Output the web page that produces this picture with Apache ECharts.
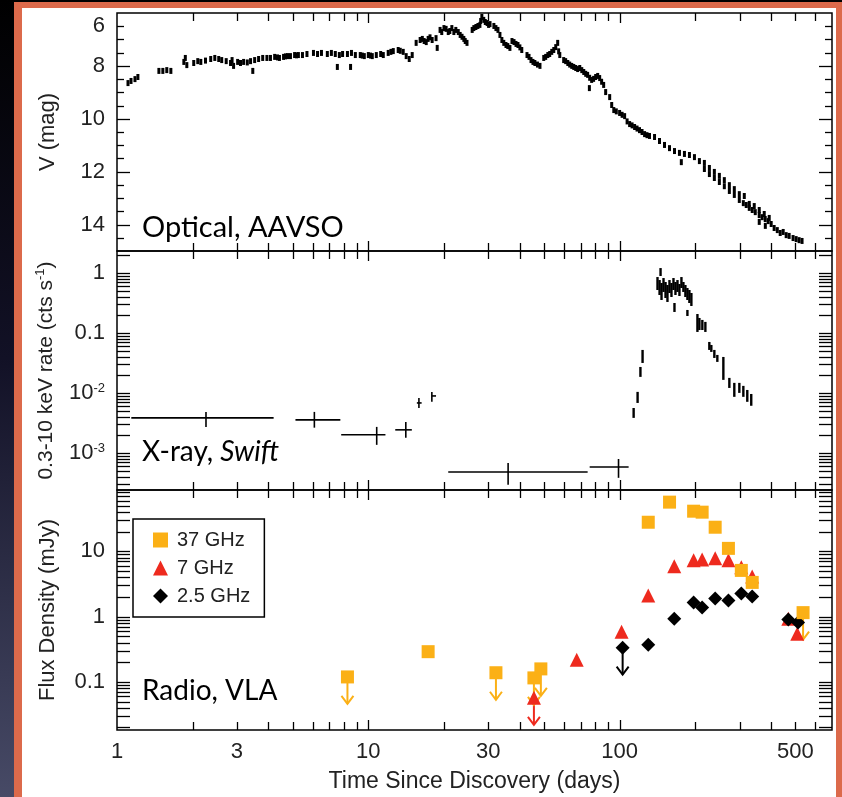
<!DOCTYPE html>
<html><head><meta charset="utf-8">
<script src="https://cdn.jsdelivr.net/npm/echarts@6.0.0/dist/echarts.min.js"></script>
<style>
html,body{margin:0;padding:0;width:842px;height:797px;overflow:hidden;}
body{background:linear-gradient(to bottom,#000 0%,#121126 45%,#474a66 100%);position:relative;}
#frame{position:absolute;left:14px;top:2px;width:828px;height:795px;background:#DC6A4B;}
#paper{position:absolute;left:22px;top:8px;width:814px;height:789px;background:#fff;}
#chart{position:absolute;left:0;top:0;width:842px;height:797px;}
</style></head><body>
<div id="frame"></div><div id="paper"></div><div id="chart"></div>
<script>
// ---------- DATA ----------
const xTickValues = [1, 3, 10, 30, 100, 500];
const xTickLabels = ['1', '3', '10', '30', '100', '500'];
const magTickValues = [6, 8, 10, 12, 14];
const xrayTickValues = [0.001, 0.01, 0.1, 1];
const xrayTickLabels = ['10{sup|-3}', '10{sup|-2}', '0.1', '1'];
const radioTickValues = [0.1, 1, 10];
const radioTickLabels = ['0.1', '1', '10'];

// Optical V magnitude (AAVSO): [day, mag]
const optical = [
[1.106,8.65],[1.137,8.57],[1.179,8.50],[1.211,8.42],
[1.468,8.19],[1.522,8.19],[1.578,8.16],[1.638,8.19],
[1.845,7.85],[1.87,7.70],[1.896,7.97],
[2.02,7.89],[2.096,7.82],[2.155,7.85],[2.25,7.80],
[2.36,7.74],[2.45,7.70],[2.54,7.74],[2.61,7.78],[2.72,7.82],
[2.83,7.89],[2.87,7.78],[2.91,8.00],
[3.02,7.85],[3.10,7.89],[3.19,7.85],[3.30,7.87],
[3.40,7.82],[3.47,8.19],[3.53,7.78],[3.66,7.74],[3.80,7.70],[3.95,7.70],
[4.08,7.70],[4.24,7.66],[4.35,7.68],[4.43,7.70],[4.60,7.66],[4.68,7.64],[4.77,7.63],
[4.90,7.63],[5.09,7.59],[5.18,7.60],[5.27,7.59],[5.47,7.59],[5.7,7.55],
[6.05,7.51],[6.28,7.55],[6.51,7.51],
[6.87,7.55],[7.13,7.51],[7.39,7.55],[7.53,8.04],[7.67,7.59],[7.9,7.55],
[8.26,7.55],[8.50,8.04],[8.57,7.51],[8.88,7.59],
[9.29,7.59],[9.46,7.61],[9.64,7.63],[10.0,7.59],[10.2,7.61],[10.37,7.63],[10.76,7.59],
[11.2,7.55],[11.47,7.59],[12.0,7.51],[12.3,7.47],[12.57,7.44],[13.15,7.40],[13.4,7.43],[13.77,7.47],
[14.15,7.63],[14.55,7.74],[14.95,7.59],
[15.5,7.13],[16.08,7.02],[16.4,6.98],[16.68,7.06],[17.0,7.10],[17.3,6.98],[17.6,6.92],[17.95,7.02],[18.6,6.95],[18.8,7.32],
[19.3,6.64],[19.6,6.72],[20.0,6.57],[20.4,6.60],[20.8,6.72],[21.1,6.68],[21.5,6.57],[21.9,6.72],[22.3,6.64],
[22.8,6.72],[23.2,6.83],[23.6,6.90],[24.0,6.98],[24.3,7.06],[24.7,7.13],
[25.9,6.64],[26.3,6.57],[26.8,6.53],[27.3,6.49],[27.8,6.45],[28.0,6.30],[28.3,6.15],[28.8,6.26],[29.2,6.34],[29.7,6.38],[30.1,6.45],[30.5,6.42],
[31.6,6.49],[32.2,6.57],[32.8,6.64],[33.4,6.83],[34.0,7.02],[34.6,7.13],[35.3,7.21],[35.9,7.25],[36.6,7.32],
[37.3,7.06],[38.0,7.10],[38.7,7.17],[39.4,7.21],[40.1,7.30],[40.8,7.40],
[42.8,7.59],[43.6,7.66],[44.4,7.78],[45.2,7.85],[46.0,7.89],[47.1,7.95],[48.2,8.00],
[49.9,7.70],[50.8,7.66],[51.8,7.59],[52.7,7.55],[53.7,7.47],[54.7,7.40],[55.7,7.29],[56.7,7.13],[57.2,7.45],[57.8,7.59],
[59.9,7.78],[61.0,7.82],[62.2,7.89],[63.3,7.95],[64.5,8.00],[65.7,8.04],[66.9,8.08],[68.1,8.12],
[69.4,8.08],[70.7,8.16],[72.0,8.23],[73.3,8.30],[74.6,8.34],[75.8,8.84],[76.0,8.45],[77.4,8.53],[78.8,8.49],[80.3,8.42],[81.8,8.38],[83.3,8.46],[84.8,8.60],
[86.4,8.72],[88.0,8.99],[91.3,9.18],
[93.0,9.48],[94.8,9.67],[97.0,9.72],[100,9.78],[102.3,9.85],[104.7,9.90],
[107.1,10.10],[109.6,10.20],[112.1,10.25],[114.7,10.31],[117.3,10.37],[120,10.43],[122.8,10.50],[125.7,10.58],[128.5,10.62],[131.5,10.65],
[137.7,10.69],[144.1,10.84],[150.9,10.99],[157.9,11.11],[165.3,11.22],[173,11.29],[176,11.64],[181.1,11.33],[189.6,11.37],[198.5,11.45],[207.7,11.60],
[217.4,11.67],[227.6,11.86],[238.2,12.01],[249.4,12.16],[261,12.32],[273.3,12.51],[286,12.66],[299.4,12.85],
[217.4,11.90],[227.6,12.09],[238.2,12.24],[249.4,12.39],[261,12.55],[273.3,12.73],[286,12.88],
[299.4,13.07],[310.6,13.19],[313.4,12.92],[319,13.26],[328,13.37],[328,13.22],[337,13.45],[343.3,13.30],[346.5,13.53],
[359.4,13.64],[359.4,13.45],[359.4,13.90],[369,13.72],[376.2,13.60],[379.6,13.79],[380,14.05],[390,13.87],[393.8,13.75],
[401,13.98],[412,14.13],[424,14.21],[435.5,14.32],[447.6,14.28],[460,14.40],[472.7,14.43],[490,14.51],[504,14.55],[517.9,14.59],[532,14.62]
];

// X-ray (Swift) binned points with errors: [day, dayLo, dayHi, rate, rateLo, rateHi]
const xrayCross = [
[2.26, 1.14, 4.2, 3.83e-3, 2.71e-3, 4.82e-3],
[6.1, 5.13, 7.74, 3.55e-3, 2.63e-3, 4.82e-3],
[10.8, 7.8, 11.7, 2.0e-3, 1.36e-3, 2.71e-3],
[14.1, 12.8, 14.9, 2.42e-3, 1.78e-3, 3.28e-3],
[15.9, 15.6, 16.3, 6.8e-3, 5.6e-3, 8.25e-3],
[17.9, 17.9, 18.6, 8.9e-3, 7.1e-3, 1.04e-2],
[36, 20.8, 74.6, 4.8e-4, 2.93e-4, 6.8e-4],
[99, 76, 108.6, 5.8e-4, 3.83e-4, 7.9e-4]
];
// X-ray individual observations: [day, rateLo, rateHi]
const xrayBars = [
[113.7, 3.83e-3, 5.6e-3],[117.9, 6.8e-3, 1.04e-2],[121, 0.0185, 0.0271],[123.4, 0.0316, 0.0521],
[141.5, 0.521, 0.857],[144.2, 0.43, 0.764],[145.5, 0.891, 1.21],[146.8, 0.355, 0.681],[149.5, 0.483, 0.825],
[152.3, 0.383, 0.708],[155.0, 0.329, 0.631],[157.9, 0.464, 0.764],[160.8, 0.398, 0.681],[163.8, 0.521, 0.825],
[165.3, 0.224, 0.316],[166.8, 0.43, 0.708],[169.9, 0.483, 0.764],[173.0, 0.414, 0.656],[176.2, 0.562, 0.857],
[179.4, 0.483, 0.708],[182.7, 0.398, 0.631],[186.1, 0.355, 0.562],[186.1, 0.192, 0.242],[189.5, 0.316, 0.521],
[193.0, 0.282, 0.464],[204.0, 0.104, 0.207],[207.7, 0.112, 0.178],[213.4, 0.112, 0.165],[219.4, 0.104, 0.153],
[227.5, 0.0521, 0.0708],[231.7, 0.0483, 0.0631],[238.2, 0.0383, 0.0521],[244.8, 0.0329, 0.043],[258.7, 0.0165, 0.0398],
[273.3, 0.0121, 0.0178],[286, 0.0086, 0.0147],[299.5, 0.01, 0.0147],[310.7, 0.0086, 0.0131],[322.1, 0.0071, 0.0112],[334.0, 0.0061, 0.0096]
];

// Radio (VLA) flux densities [day, mJy]
const radio37 = [[17.3,0.29],[130,27.9],[158,56.7],[197,41.2],[213,39.8],[240,23.4],[271,11.1],[305,5.1],[337,3.34]];
const radio37Lim = [[8.26,0.119],[32.2,0.138],[45.6,0.115],[48.6,0.158],[537,1.15]];
const radio7 = [[67.5,0.218],[101.8,0.588],[130,2.1],[165,5.9],[197,7.27],[213,7.5],[240,7.8],[271,7.27],[305,5.68],[337,4.12],[469,0.93],[509,0.548]];
const radio7Lim = [[45.6,0.057]];
const radio25 = [[130,0.371],[165,0.93],[197,1.64],[213,1.375],[240,1.89],[271,1.76],[305,2.26],[337,2.03],[469,0.90],[513,0.81]];
const radio25Lim = [[102.8,0.334]];

// ---------- STYLE / LAYOUT ----------
const FONT = "'Liberation Sans', Arial, Helvetica, sans-serif";
const ANNOT = "Lato, 'Open Sans', sans-serif";
const C37 = '#FBB016', C7 = '#EE2A1E', C25 = '#000000';
const X_MIN = 1, X_MAX = 700;
const Y_EXT = [[6, 15], [2.4e-4, 2.33], [0.0183, 87]];
const Y_REF = [10, 0.01, 1];

function logTicks(lo, hi) {
  const out = [];
  for (let n = -5; n <= 3; n++) for (let k = 1; k <= 9; k++) {
    const v = k * Math.pow(10, n);
    if (v > lo * 1.0001 && v < hi * 0.9999) out.push([v, k === 1]);
  }
  return out;
}
function tickData(gi) {
  const d = [];
  logTicks(X_MIN, X_MAX).forEach(t => d.push([t[0], Y_REF[gi], 0, t[1] ? 10 : 8]));
  if (gi === 0) {
    for (let m = 6.5; m < 15; m += 0.5) d.push([X_MIN, m, 1, (m % 2 === 0) ? 13 : 7]);
  } else {
    logTicks(Y_EXT[gi][0], Y_EXT[gi][1]).forEach(t => d.push([X_MIN, t[0], 1, 13]));
  }
  return d;
}
function renderTick(params, api) {
  const cs = params.coordSys;
  const o = api.value(2), L = api.value(3);
  const p = api.coord([api.value(0), api.value(1)]);
  const st = {stroke: '#000', lineWidth: 1.3};
  if (o === 0) {
    const x = Math.round(p[0]) + 0.5;
    return {type: 'group', children: [
      {type: 'line', shape: {x1: x, y1: cs.y, x2: x, y2: cs.y + L}, style: st},
      {type: 'line', shape: {x1: x, y1: cs.y + cs.height, x2: x, y2: cs.y + cs.height - L}, style: st}]};
  }
  const y = Math.round(p[1]) + 0.5;
  return {type: 'group', children: [
    {type: 'line', shape: {x1: cs.x, y1: y, x2: cs.x + L, y2: y}, style: st},
    {type: 'line', shape: {x1: cs.x + cs.width, y1: y, x2: cs.x + cs.width - L, y2: y}, style: st}]};
}
function labelFmt(vals, labels) {
  return function (v) {
    for (let i = 0; i < vals.length; i++) if (Math.abs(Math.log10(v) - Math.log10(vals[i])) < 1e-6) return labels[i];
    return '';
  };
}
function arrowSeries(data, color, z) {
  return {
    type: 'custom', xAxisIndex: 2, yAxisIndex: 2, silent: true, z: z, data: data,
    renderItem: function (params, api) {
      const p = api.coord([api.value(0), api.value(1)]);
      const x = p[0], y0 = p[1] + 5, y1 = p[1] + 27;
      const st = {stroke: color, lineWidth: 2, fill: null};
      return {type: 'group', children: [
        {type: 'line', shape: {x1: x, y1: y0, x2: x, y2: y1}, style: st},
        {type: 'polyline', shape: {points: [[x - 6, y1 - 8], [x, y1], [x + 6, y1 - 8]]}, style: st}]};
    }
  };
}

const labelBase = {fontSize: 22, fontFamily: FONT, color: '#222'};
const nameBase = {fontSize: 22, fontFamily: FONT, color: '#222'};

const grids = [
  {left: 117, right: 10, top: 13, height: 238},
  {left: 117, right: 10, top: 251, height: 239},
  {left: 117, right: 10, top: 490, height: 240}
].map(g => Object.assign(g, {show: true, borderColor: '#000', borderWidth: 1.5, backgroundColor: 'transparent'}));

const xAxes = [0, 1, 2].map(i => ({
  type: 'log', gridIndex: i, min: X_MIN, max: X_MAX,
  axisLine: {show: false}, axisTick: {show: false}, axisLabel: {show: false}, splitLine: {show: false},
  name: i === 2 ? 'Time Since Discovery (days)' : '', nameLocation: 'middle', nameGap: 40,
  nameTextStyle: Object.assign({}, nameBase, {fontSize: 23})
}));

const yAxes = [
  {
    type: 'value', gridIndex: 0, inverse: true, min: 6, max: 15, interval: 2,
    axisLine: {show: false}, axisTick: {show: false}, splitLine: {show: false},
    axisLabel: Object.assign({}, labelBase, {margin: 12, showMaxLabel: false,
      formatter: v => (v === 6 ? '{t|6}' : (v === 15 ? '' : String(v))),
      rich: {t: Object.assign({}, labelBase, {padding: [26, 0, 0, 0]})}}),
    name: 'V (mag)', nameLocation: 'middle', nameRotate: 90, nameGap: 58, nameTextStyle: nameBase
  },
  {
    type: 'log', gridIndex: 1, min: Y_EXT[1][0], max: Y_EXT[1][1],
    axisLine: {show: false}, axisTick: {show: false}, splitLine: {show: false},
    axisLabel: Object.assign({}, labelBase, {margin: 12, formatter: labelFmt(xrayTickValues, xrayTickLabels),
      rich: {sup: {fontSize: 13, fontFamily: FONT, color: '#222', verticalAlign: 'top', lineHeight: 12}}}),
    name: '0.3-10 keV rate (cts s{sup|-1})', nameLocation: 'middle', nameRotate: 90, nameGap: 58,
    nameTextStyle: Object.assign({}, nameBase, {fontSize: 21, lineHeight: 24,
      rich: {sup: {fontSize: 13, fontFamily: FONT, color: '#222', verticalAlign: 'top', lineHeight: 12}}})
  },
  {
    type: 'log', gridIndex: 2, min: Y_EXT[2][0], max: Y_EXT[2][1],
    axisLine: {show: false}, axisTick: {show: false}, splitLine: {show: false},
    axisLabel: Object.assign({}, labelBase, {margin: 12, formatter: labelFmt(radioTickValues, radioTickLabels)}),
    name: 'Flux Density (mJy)', nameLocation: 'middle', nameRotate: 90, nameGap: 58, nameTextStyle: nameBase
  }
];

const series = [];
[0, 1, 2].forEach(gi => series.push({
  type: 'custom', xAxisIndex: gi, yAxisIndex: gi, silent: true, z: 6, data: tickData(gi), renderItem: renderTick
}));
// x tick labels
series.push({
  type: 'custom', xAxisIndex: 2, yAxisIndex: 2, silent: true, z: 6,
  data: xTickValues.map((v, i) => [v, Y_REF[2], i]),
  renderItem: function (params, api) {
    const cs = params.coordSys;
    const p = api.coord([api.value(0), api.value(1)]);
    return {type: 'text', x: p[0], y: cs.y + cs.height + 22,
      style: {text: xTickLabels[api.value(2)], fontSize: 22, fontFamily: FONT, fill: '#222',
        align: 'center', verticalAlign: 'middle', textAlign: 'center', textVerticalAlign: 'middle'}};
  }
});
// optical
series.push({
  name: 'Optical', type: 'scatter', xAxisIndex: 0, yAxisIndex: 0, symbol: 'rect', symbolSize: [3, 6],
  itemStyle: {color: '#000', opacity: 1}, data: optical, z: 3
});
// X-ray
function xrayRender(isCross) {
  return function (params, api) {
    const st = {stroke: '#000', lineWidth: isCross ? 1.6 : 2.4};
    const ch = [];
    if (isCross) {
      const d = api.value(0), dl = api.value(1), dh = api.value(2), r = api.value(3), rl = api.value(4), rh = api.value(5);
      const a = api.coord([dl, r]), b = api.coord([dh, r]);
      ch.push({type: 'line', shape: {x1: a[0], y1: a[1], x2: b[0], y2: b[1]}, style: st});
      const c = api.coord([d, rl]), e = api.coord([d, rh]);
      ch.push({type: 'line', shape: {x1: c[0], y1: c[1], x2: e[0], y2: e[1]}, style: st});
    } else {
      const d = api.value(0), rl = api.value(1), rh = api.value(2);
      const c = api.coord([d, rl]), e = api.coord([d, rh]);
      ch.push({type: 'line', shape: {x1: c[0], y1: c[1], x2: e[0], y2: e[1]}, style: st});
    }
    return {type: 'group', children: ch};
  };
}
series.push({type: 'custom', xAxisIndex: 1, yAxisIndex: 1, silent: true, z: 3, data: xrayCross, renderItem: xrayRender(true)});
series.push({type: 'custom', xAxisIndex: 1, yAxisIndex: 1, silent: true, z: 3, data: xrayBars, renderItem: xrayRender(false)});
// radio
series.push(arrowSeries(radio7Lim, C7, 2));
series.push(arrowSeries(radio25Lim, C25, 2));
series.push(arrowSeries(radio37Lim, C37, 2));
series.push({name: '7 GHz', type: 'scatter', xAxisIndex: 2, yAxisIndex: 2, symbol: 'triangle', symbolSize: 14,
  itemStyle: {color: C7, opacity: 1}, data: radio7.concat(radio7Lim), z: 3});
series.push({name: '2.5 GHz', type: 'scatter', xAxisIndex: 2, yAxisIndex: 2, symbol: 'diamond', symbolSize: 14,
  itemStyle: {color: C25, opacity: 1}, data: radio25.concat(radio25Lim), z: 3});
series.push({name: '37 GHz', type: 'scatter', xAxisIndex: 2, yAxisIndex: 2, symbol: 'rect', symbolSize: 13,
  itemStyle: {color: C37, opacity: 1}, data: radio37.concat(radio37Lim), z: 4});

const option = {
  animation: false,
  backgroundColor: 'transparent',
  grid: grids,
  xAxis: xAxes,
  yAxis: yAxes,
  legend: {
    orient: 'vertical', left: 133, top: 519, padding: [10, 14, 10, 20], itemGap: 6,
    itemWidth: 15, itemHeight: 15, borderColor: '#000', borderWidth: 1.5, backgroundColor: '#fff',
    selectedMode: false,
    itemStyle: {opacity: 1},
    textStyle: {fontSize: 20, fontFamily: FONT, color: '#222', lineHeight: 22, padding: [0, 0, 0, 4]},
    data: [{name: '37 GHz', icon: 'rect'}, {name: '7 GHz', icon: 'triangle'}, {name: '2.5 GHz', icon: 'diamond'}]
  },
  graphic: [
    {type: 'text', x: 142, y: 228, z: 10, style: {text: 'Optical, AAVSO', font: "29px " + ANNOT, fill: '#000', verticalAlign: 'middle', textVerticalAlign: 'middle'}},
    {type: 'text', x: 142, y: 452, z: 10, style: {text: 'X-ray, {i|Swift}', font: "28px " + ANNOT, fill: '#000', verticalAlign: 'middle', textVerticalAlign: 'middle',
      rich: {i: {font: "italic 28px " + ANNOT, fill: '#000'}}}},
    {type: 'text', x: 142, y: 691, z: 10, style: {text: 'Radio, VLA', font: "28px " + ANNOT, fill: '#000', verticalAlign: 'middle', textVerticalAlign: 'middle'}}
  ],
  series: series
};

const chart = echarts.init(document.getElementById('chart'), null, {renderer: 'canvas', width: 842, height: 797});
chart.setOption(option);
</script></body></html>
